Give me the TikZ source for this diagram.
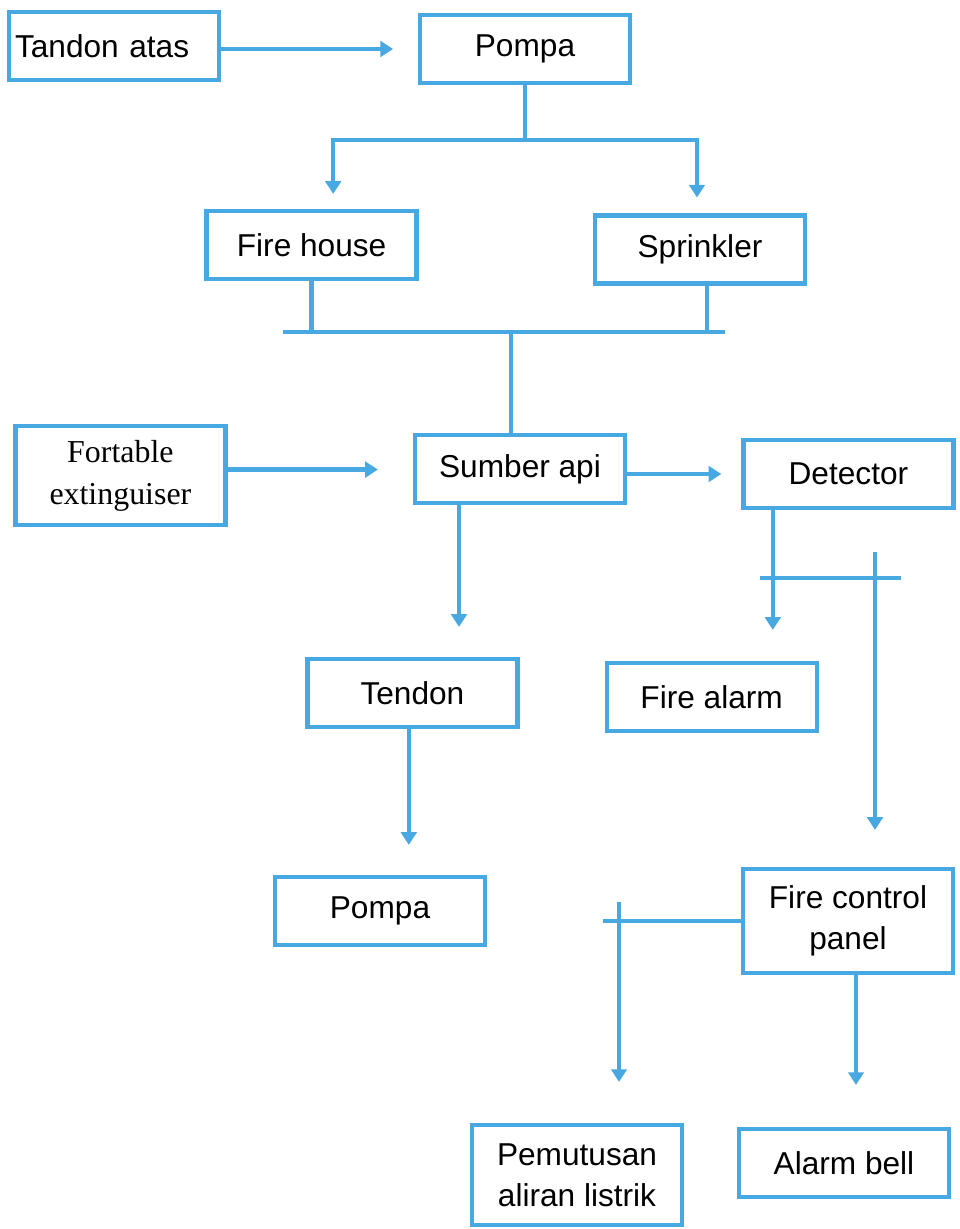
\documentclass[tikz,border=0pt]{standalone}
\usepackage{fontspec}
\setmainfont{Liberation Sans}
\newfontfamily\timesface{Liberation Serif}
\usetikzlibrary{arrows.meta}
\definecolor{pipeblue}{RGB}{72,168,226}

\begin{document}
\begin{tikzpicture}[join=miter, % fire protection flow
  box/.style={draw=pipeblue,line width=3pt,minimum width=5.25cm,minimum height=1.7cm,
    align=center,font=\fontsize{22.5}{29}\selectfont},
  link/.style={draw=pipeblue,line width=3pt},
  arr/.style={link,-{Triangle[width=11pt,length=9pt]}}]
  \useasboundingbox (0,0) rectangle (24,-30.725);
  % boxes
  \node[box,text width=4.95cm,inner xsep=2pt,align=left] (tandonatas) at (2.85,-1.15) {Tandon atas};
  \node[box] (pompa) at (13.125,-1.225) {Pompa};
  \node[box] (firehouse) at (7.79,-6.125) {Fire house};
  \node[box] (sprinkler) at (17.5,-6.24) {Sprinkler};
  \node[box,minimum height=2.475cm,font=\timesface\fontsize{22.7}{30}\selectfont] (fortable) at (3.01,-11.89) {Fortable\\extinguiser};
  \node[box] (sumberapi) at (13.0,-11.725) {Sumber api};
  \node[box] (detector) at (21.21,-11.85) {Detector};
  \node[box] (tendon) at (10.31,-17.325) {Tendon};
  \node[box] (firealarm) at (17.79,-17.425) {Fire alarm};
  \node[box] (pompab) at (9.5,-22.775) {Pompa};
  \node[box,minimum height=2.6cm] (fcp) at (21.2,-23.025) {Fire control\\panel};
  \node[box,minimum height=2.5cm] (pemutusan) at (14.425,-29.375) {Pemutusan\\aliran listrik};
  \node[box] (alarmbell) at (21.1,-29.075) {Alarm bell};

  % junction points
  \coordinate (barL) at (7.075,-8.3);
  \coordinate (barR) at (18.125,-8.3);
  \coordinate (tapL) at (19.0,-14.45);
  \coordinate (tapR) at (22.525,-14.45);
  \coordinate (tapT) at (21.875,-13.8);
  \coordinate (brL) at (15.075,-22.975);
  \coordinate (brT) at (15.475,-22.55);

  % upper part
  \draw[arr,shorten >=0.62cm] ([yshift=-0.075cm]tandonatas.east) -- ([yshift=-0.075cm]tandonatas.east -| pompa.west);
  \draw[arr,shorten >=0.375cm] (pompa.south) -- ++(0,-1.375) -| ([xshift=0.54cm]firehouse.north);
  \draw[arr,shorten >=0.4cm] (pompa.south) -- ++(0,-1.375) -| ([xshift=-0.075cm]sprinkler.north);
  \draw[link] (barL) -- (barR);
  \draw[link] (firehouse.south) -- (firehouse.south |- barL);
  \draw[link] ([xshift=0.175cm]sprinkler.south) -- ([xshift=0.175cm]sprinkler.south |- barL);
  \draw[link] ([xshift=-0.225cm]sumberapi.north) -- ([xshift=-0.225cm]sumberapi.north |- barL);
  \draw[arr,shorten >=0.875cm] ([yshift=0.15cm]fortable.east) -- ([yshift=0.15cm]fortable.east -| sumberapi.west);
  \draw[arr,shorten >=0.5cm] ([yshift=-0.125cm]sumberapi.east) -- ([yshift=-0.125cm]sumberapi.east -| detector.west);

  % lower part
  \draw[arr,shorten >=0.75cm] ([xshift=-1.525cm]sumberapi.south) -- ([xshift=-1.525cm]sumberapi.south |- tendon.north);
  \draw[arr,shorten >=0.775cm] ([xshift=-1.89cm]detector.south) -- ([xshift=-1.89cm]detector.south |- firealarm.north);
  \draw[link] (tapL) -- (tapR);
  \draw[arr,shorten >=0.925cm] (tapT) -- (tapT |- fcp.north);
  \draw[arr,shorten >=0.75cm] ([xshift=-0.09cm]tendon.south) -- ([xshift=-0.09cm]tendon.south |- pompab.north);
  \draw[link] (fcp.west) -- (fcp.west -| brL);
  \draw[arr,shorten >=1.025cm] (brT) -- (brT |- pemutusan.north);
  \draw[arr,shorten >=1.05cm] ([xshift=0.2cm]fcp.south) -- ([xshift=0.2cm]fcp.south |- alarmbell.north);
\end{tikzpicture}
\end{document}
